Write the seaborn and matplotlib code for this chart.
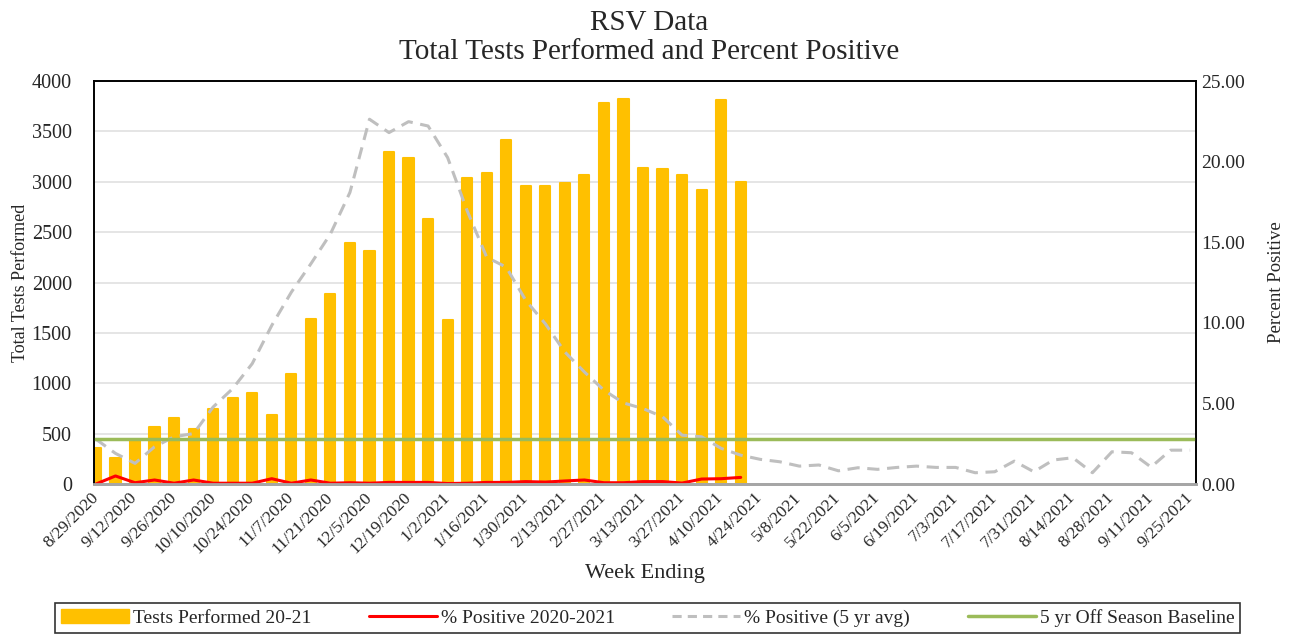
import matplotlib
matplotlib.use("Agg")
import matplotlib.pyplot as plt
import matplotlib.patches as mpatches
import matplotlib.lines as mlines
import pandas as pd
import seaborn as sns

# week ending dates shown on the category axis
weeks = pd.date_range("2020-08-29", periods=57, freq="7D")
week_labels = [f"{d.month}/{d.day}/{d.year}" for d in weeks]

# total tests performed 2020-21 (weeks with data only)
tests_2021 = [360, 254, 436, 568, 657, 551, 749, 855, 907, 683,
              1089, 1640, 1888, 2396, 2317, 3297, 3231, 2630, 1624, 3033,
              3086, 3413, 2957, 2957, 2983, 3072, 3779, 3819, 3139, 3126,
              3072, 2921, 3815, 2993]

# % positive 2020-2021
pos_2021 = [0.00, 0.50, 0.08, 0.25, 0.05, 0.25, 0.05, 0.05, 0.05, 0.33,
            0.05, 0.25, 0.05, 0.08, 0.05, 0.10, 0.10, 0.10, 0.03, 0.05,
            0.10, 0.10, 0.15, 0.12, 0.19, 0.25, 0.08, 0.08, 0.15, 0.15,
            0.06, 0.31, 0.33, 0.41]

# % positive, 5 year average
pos_5yr = [2.78, 1.90, 1.28, 2.31, 2.93, 3.13, 4.78, 5.92, 7.47, 9.84,
           11.90, 13.66, 15.51, 18.09, 22.63, 21.80, 22.48, 22.21, 20.25, 16.95,
           14.07, 13.45, 11.39, 9.94, 8.19, 6.95, 5.82, 5.03, 4.68, 4.17,
           3.03, 2.93, 2.21, 1.79, 1.53, 1.38, 1.11, 1.18, 0.82, 1.01,
           0.91, 1.03, 1.11, 1.03, 1.03, 0.70, 0.76, 1.42, 0.76, 1.49,
           1.63, 0.70, 2.00, 1.94, 1.05, 2.10, 2.10]

baseline = 2.77  # 5 yr off season baseline (%)

sns.set_style("white")
plt.rcParams["font.family"] = ["Liberation Serif", "DejaVu Serif"]

fig = plt.figure(figsize=(12.98, 6.41), dpi=100)
ax = fig.add_axes([0.0724, 0.2449, 0.849, 0.6287])

df_bar = pd.DataFrame({"week": week_labels[:len(tests_2021)], "tests": tests_2021})
sns.barplot(data=df_bar, x="week", y="tests", order=week_labels, color="#FFC000",
            saturation=1, width=0.52, ax=ax, zorder=2)
for p in ax.patches:
    p.set_edgecolor("#FFC000")
    p.set_linewidth(1.5)
    p.set_joinstyle("round")

ax.set_ylim(0, 4000)
ax.set_yticks(range(0, 4001, 500))
ax.set_xlim(-0.1, 56.3)
ax.yaxis.grid(True, color="#E0E0E0", linewidth=1.2, zorder=0)
ax.set_axisbelow(True)
ax.set_xticks(range(0, 57, 2))
ax.set_xticklabels(week_labels[::2], rotation=45, ha="right", va="center",
                   rotation_mode="anchor", fontsize=12.5)
ax.tick_params(axis="x", length=0, pad=8)
ax.tick_params(axis="y", length=0, labelsize=14.5, pad=16)
ax.set_xlabel("Week Ending", fontsize=16, labelpad=5)
ax.set_ylabel("Total Tests Performed", fontsize=13, labelpad=2)

ax2 = ax.twinx()
x_red = list(range(len(pos_2021)))
x_gray = list(range(len(pos_5yr)))
sns.lineplot(x=x_gray, y=pos_5yr, ax=ax2, color="#BFBFBF", linewidth=2.2,
             linestyle=(0, (4, 2.5)))
sns.lineplot(x=x_red, y=pos_2021, ax=ax2, color="#FF0000", linewidth=2.2)
ax2.axhline(baseline, color="#9BBB59", linewidth=2.5)
ax2.set_ylim(0, 25)
ax2.set_yticks(range(0, 26, 5))
ax2.set_yticklabels([f"{v:.2f}" for v in range(0, 26, 5)])
ax2.tick_params(axis="y", length=0, labelsize=14, pad=4)
ax2.set_ylabel("Percent Positive", fontsize=13.5, labelpad=16)
ax2.set_xlim(-0.1, 56.3)

for a in (ax, ax2):
    for s in ("left", "top", "right"):
        a.spines[s].set_color("black")
        a.spines[s].set_linewidth(1.2)
    a.spines["bottom"].set_color("#A6A6A6")
    a.spines["bottom"].set_linewidth(2)

fig.suptitle("RSV Data\nTotal Tests Performed and Percent Positive",
             fontsize=21, y=0.985, linespacing=1.15)

handles = [
    mpatches.FancyBboxPatch((0, 0), 1, 1, boxstyle="round,pad=0.1", color="#FFC000"),
    mlines.Line2D([], [], color="#FF0000", linewidth=2.2),
    mlines.Line2D([], [], color="#BFBFBF", linewidth=2.2, linestyle=(0, (3, 2))),
    mlines.Line2D([], [], color="#9BBB59", linewidth=2.5),
]
labels = ["Tests Performed 20-21", "% Positive 2020-2021",
          "% Positive (5 yr avg)", "5 yr Off Season Baseline"]
leg = fig.legend(handles, labels, loc="center", ncol=4, mode="expand",
                 bbox_to_anchor=(0.0424, 0.0125, 0.913, 0.0468),
                 fontsize=14, handlelength=3.5, handletextpad=0.2,
                 fancybox=False, edgecolor="black", borderaxespad=0,
                 borderpad=0.3)
leg.get_frame().set_linewidth(1.2)

fig.savefig("out.png", dpi=100)
